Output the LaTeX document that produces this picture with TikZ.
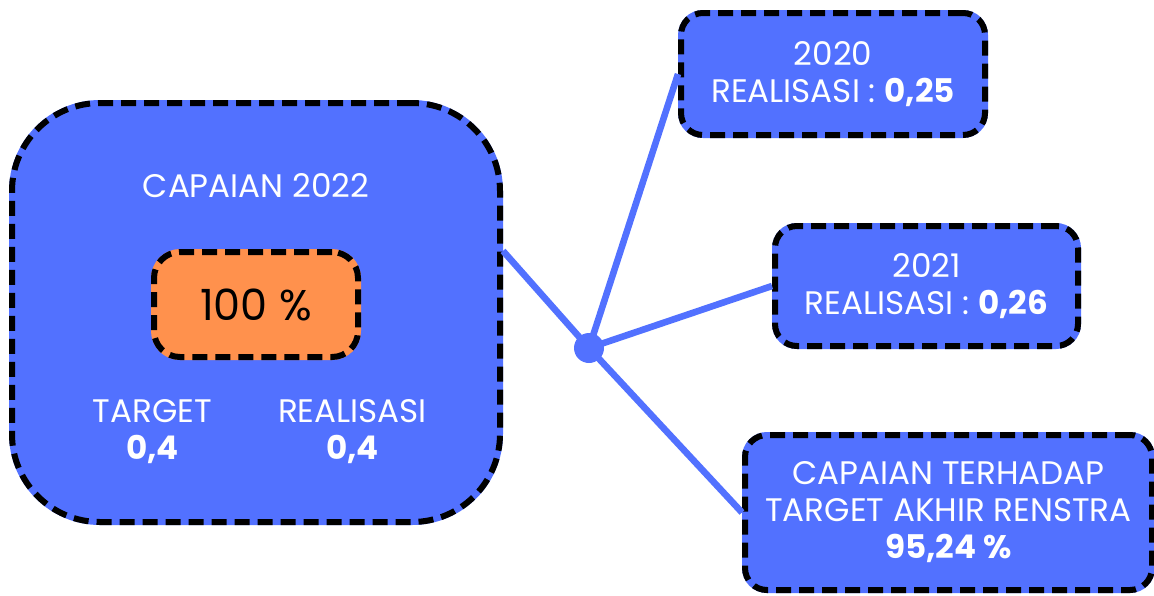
\documentclass[tikz,border=0pt]{standalone}
\usepackage{fontspec}
\setmainfont{Poppins}
\usetikzlibrary{shapes, positioning}
\definecolor{biru}{HTML}{5271FF}
\definecolor{oranye}{HTML}{FF914D}
\newcommand\teks{\fontsize{16.3}{18.5}\selectfont}

\begin{document}
\begin{tikzpicture}[x=0.5pt, y=-0.5pt,
    kotak/.style={rectangle, rounded corners=11pt, fill=#1, draw=black, line width=3pt,
        dash pattern=on 7.5pt off 4pt, preaction={draw=#1, solid, line width=3pt},
        text=white, align=center, font=\teks},
    kotak/.default=biru,
    label/.style={text=white, align=center, font=\teks},
    garis/.style={draw=biru, line width=3.3pt}]
    \useasboundingbox (0,0) rectangle (1154,595);

    % panel kiri
    \node (capaian) [kotak, rounded corners=44pt, minimum width=244pt, minimum height=209.5pt] at (256,312.5) {};
    \node (judul) [label] at (256,186) {CAPAIAN 2022};
    \node (persen) [kotak=oranye, rounded corners=13pt, minimum width=102pt, minimum height=52.5pt,
        text=black, font=\fontsize{21.5}{26}\selectfont] at (256,304.5) {100 \%};
    \node (target) [label] at (152.5,432) {TARGET\\\textbf{0,4}};
    \node (realisasi) [label] at (352.5,432) {REALISASI\\\textbf{0,4}};

    % kotak kanan
    \node (th2020) [kotak, minimum width=152pt, minimum height=61pt] at (833,74) {2020\\REALISASI : \textbf{0,25}};
    \node (th2021) [kotak, minimum width=151.5pt, minimum height=60pt] at (926.5,286) {2021\\REALISASI : \textbf{0,26}};
    \node (renstra) [kotak, minimum width=203.5pt, minimum height=77.5pt] at (948.5,512.5) {CAPAIAN TERHADAP\\TARGET AKHIR RENSTRA\\\textbf{95,24 \%}};

    \node (pusat) [circle, fill=biru, minimum size=15pt, inner sep=0pt] at (589,348) {};

    \draw [garis] (capaian.14) -- (pusat.center);
    \draw [garis] (pusat.center) -- (th2020.west);
    \draw [garis] (pusat.center) -- (th2021.west);
    \draw [garis] (pusat.center) -- (renstra.west);
\end{tikzpicture}
\end{document}
